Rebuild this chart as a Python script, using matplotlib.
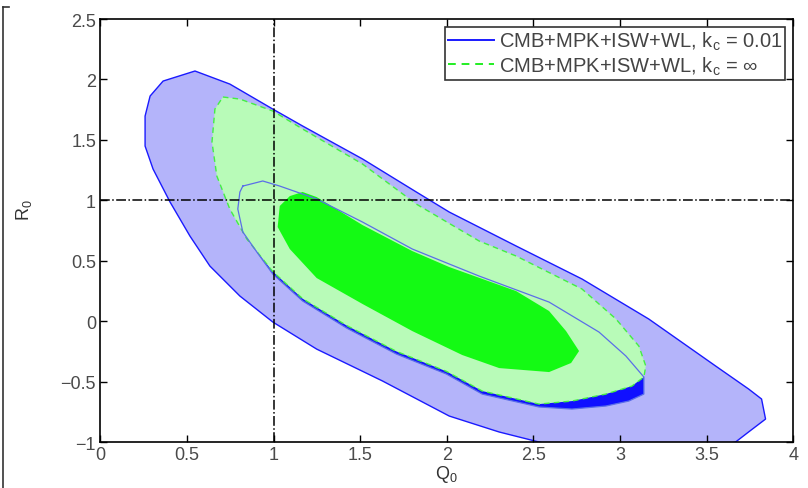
import numpy as np
import matplotlib
matplotlib.use('Agg')
import matplotlib.pyplot as plt
from matplotlib.lines import Line2D

plt.rcParams['font.family'] = ['Liberation Sans', 'DejaVu Sans']

# confidence contours in the (Q0, R0) plane
# k_c = 0.01, 2-sigma
blue_2s_q = [0.547, 0.748, 0.996, 1.168, 1.514, 1.824, 2.014, 2.400, 2.780, 3.165, 3.551, 3.741,
             3.816, 3.839, 3.741, 3.666, 3.50, 2.70, 2.532, 2.302, 2.014, 1.629, 1.514, 1.249,
             0.996, 0.806, 0.633, 0.518, 0.403, 0.305, 0.259, 0.259, 0.288, 0.363]
blue_2s_r = [2.070, 1.962, 1.755, 1.615, 1.342, 1.069, 0.903, 0.622, 0.349, 0.018, -0.371, -0.561,
             -0.644, -0.810, -0.917, -1.000, -1.06, -1.06, -1.000, -0.917, -0.785, -0.495, -0.415, -0.231,
             -0.007, 0.208, 0.456, 0.704, 0.986, 1.259, 1.449, 1.697, 1.863, 1.987]

# k_c = 0.01, 1-sigma
blue_1s_q = [0.823, 0.938, 1.036, 1.249, 1.514, 1.801, 2.014, 2.187, 2.590, 2.878, 3.033, 3.137,
             3.137, 3.050, 2.918, 2.722, 2.532, 2.204, 1.997, 1.709, 1.422, 1.168, 0.996, 0.904,
             0.823, 0.794, 0.806]
blue_1s_r = [1.118, 1.160, 1.118, 1.011, 0.820, 0.597, 0.473, 0.373, 0.158, -0.090, -0.288, -0.462,
             -0.603, -0.661, -0.702, -0.727, -0.710, -0.603, -0.437, -0.272, -0.057, 0.167, 0.390, 0.572,
             0.738, 0.928, 1.069]

# k_c = inf, 2-sigma
green_2s_q = [0.708, 0.806, 0.996, 1.168, 1.514, 1.824, 2.187, 2.400, 2.780, 2.976, 3.108, 3.148,
              3.137, 3.068, 2.918, 2.722, 2.532, 2.204, 1.997, 1.709, 1.422, 1.168, 0.996, 0.846,
              0.748, 0.673, 0.645, 0.662]
green_2s_r = [1.855, 1.838, 1.739, 1.590, 1.300, 0.969, 0.663, 0.539, 0.266, 0.018, -0.206, -0.371,
              -0.462, -0.537, -0.603, -0.661, -0.686, -0.578, -0.415, -0.250, -0.036, 0.186, 0.410, 0.680,
              0.928, 1.201, 1.482, 1.755]

# k_c = inf, 1-sigma
green_1s_q = [1.094, 1.168, 1.249, 1.514, 1.801, 2.014, 2.400, 2.590, 2.688, 2.763, 2.717, 2.590,
              2.302, 2.089, 1.801, 1.514, 1.249, 1.094, 1.024, 1.036]
green_1s_r = [1.035, 1.069, 1.027, 0.795, 0.580, 0.448, 0.249, 0.084, -0.082, -0.247, -0.346, -0.421,
              -0.388, -0.280, -0.082, 0.142, 0.357, 0.597, 0.779, 0.953]

q_fid = 1.0
r_fid = 1.0

label_kc = 'CMB+MPK+ISW+WL, $\\mathregular{k_c}$ = 0.01'
label_inf = 'CMB+MPK+ISW+WL, $\\mathregular{k_c}$ = \u221e'

fig = plt.figure(figsize=(8.08, 4.89), dpi=100)
ax = fig.add_axes([0.124, 0.094, 0.858, 0.865])

ax.fill(blue_2s_q, blue_2s_r, facecolor='#b4b4fa', edgecolor='#1a1aff', lw=1.0,
        joinstyle='round', zorder=1)
ax.fill(blue_1s_q, blue_1s_r, facecolor='#1010ff', edgecolor='none', zorder=2)
ax.fill(green_2s_q, green_2s_r, facecolor='#b8fbb8', edgecolor='#44ee44', lw=1.0,
        linestyle=(0, (4, 3)), zorder=3)
ax.fill(green_1s_q, green_1s_r, facecolor='#14fa14', edgecolor='none', zorder=4)
ax.plot(blue_1s_q + blue_1s_q[:1], blue_1s_r + blue_1s_r[:1], color='#5a6ee8', lw=0.9, zorder=5)

ax.axvline(q_fid, color='black', lw=1.1, linestyle='-.', zorder=6)
ax.axhline(r_fid, color='black', lw=1.1, linestyle='-.', zorder=6)

ax.set_xlim(0, 4)
ax.set_ylim(-1, 2.5)
ax.set_xticks(np.arange(0, 4.01, 0.5))
ax.set_xticklabels(['0', '0.5', '1', '1.5', '2', '2.5', '3', '3.5', '4'])
ax.set_yticks(np.arange(-1, 2.51, 0.5))
ax.set_yticklabels(['\u22121', '\u22120.5', '0', '0.5', '1', '1.5', '2', '2.5'])
ax.tick_params(direction='in', top=True, right=True, length=5, width=1,
               labelsize=13, labelcolor='#4a4a4a', pad=3)
for sp in ax.spines.values():
    sp.set_linewidth(1.2)

ax.set_xlabel('$\\mathregular{Q_0}$', fontsize=13, color='#333333', labelpad=0)
ax.set_ylabel('$\\mathregular{R_0}$', fontsize=13, color='#333333')
ax.yaxis.set_label_coords(-0.095, 0.55)

handles = [Line2D([], [], color='#1a1aff', lw=1.4),
           Line2D([], [], color='#22ee22', lw=1.4, linestyle=(0, (4, 3)))]
leg = ax.legend(handles, [label_kc, label_inf], loc='upper right', fontsize=14.5,
                frameon=True, fancybox=False, borderaxespad=0.4, handlelength=2.3,
                handletextpad=0.2, borderpad=0.15, labelspacing=0.1)
leg.get_frame().set_edgecolor('black')
leg.get_frame().set_linewidth(1.2)
for t in leg.get_texts():
    t.set_color('#444444')

# frame edge at the far left
fig.add_artist(Line2D([0.004, 0.004], [0.0, 0.983], color='#333333', lw=1.2))
fig.add_artist(Line2D([0.004, 0.011], [0.983, 0.983], color='#333333', lw=1.2))

fig.savefig('out.png', dpi=100)
